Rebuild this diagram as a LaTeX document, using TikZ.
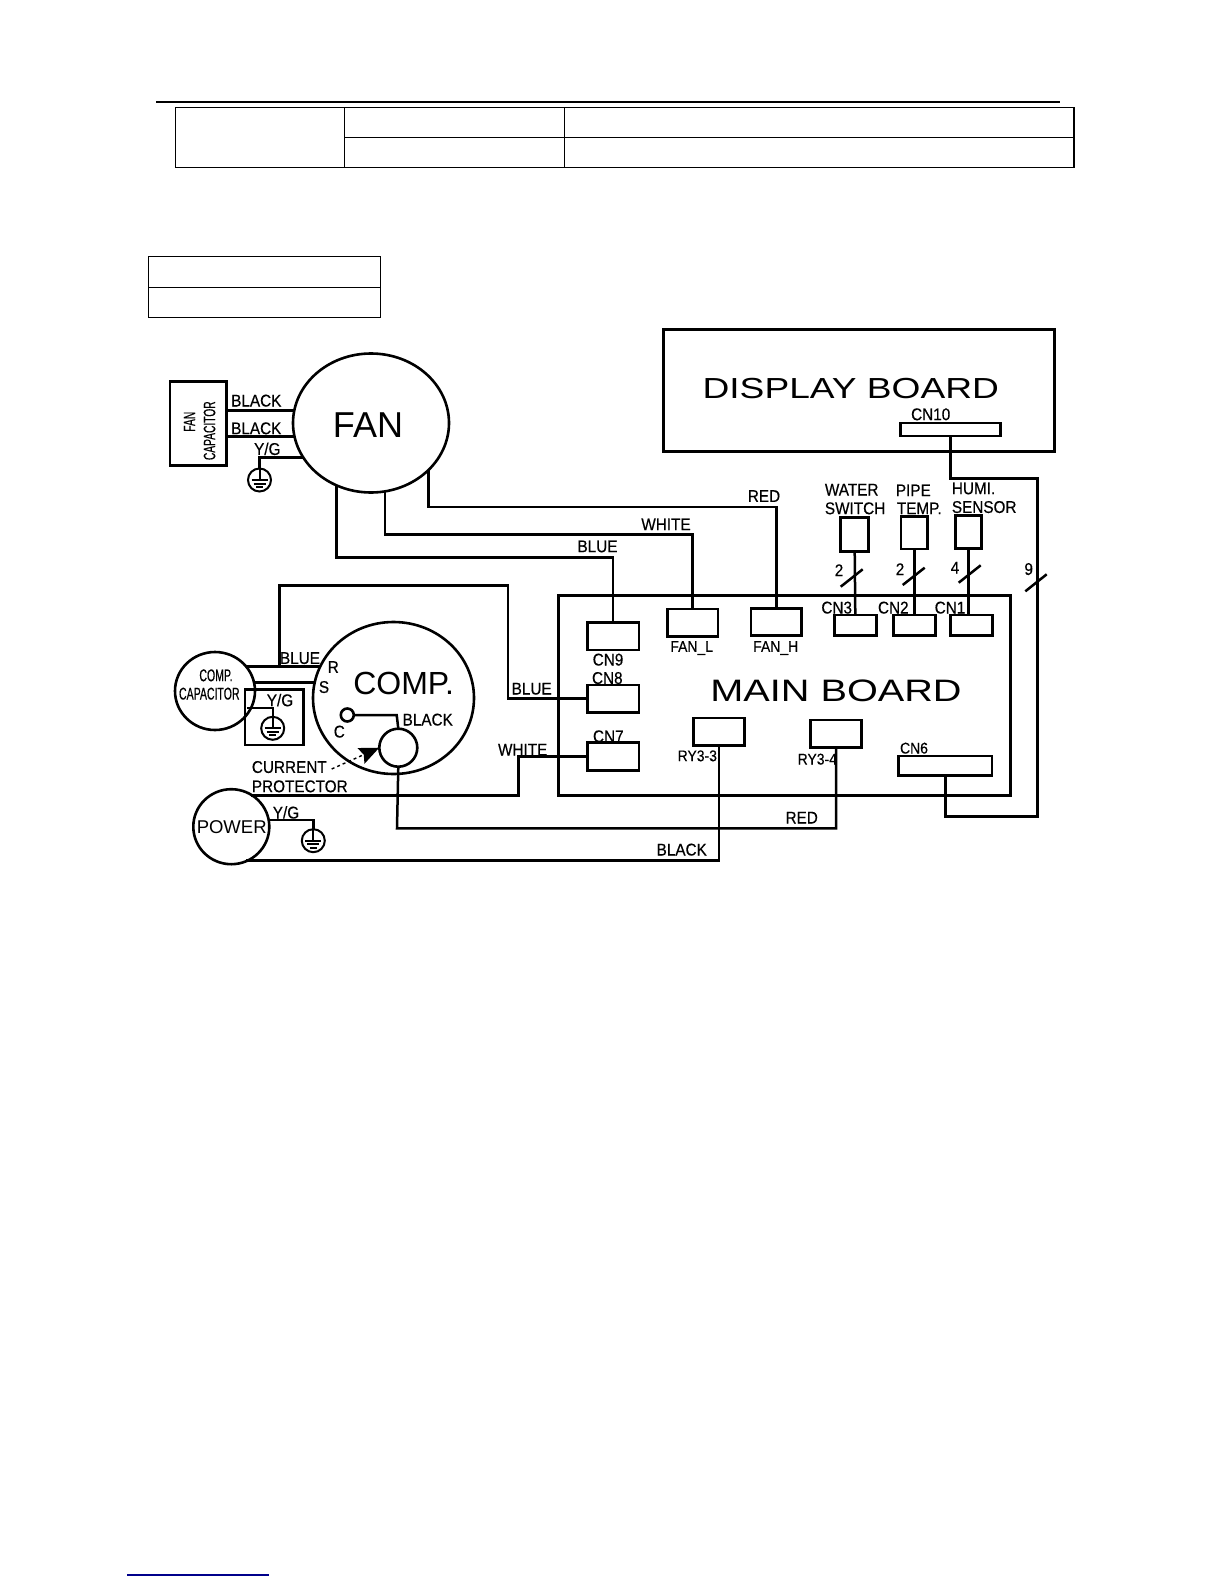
\documentclass[tikz,border=0pt]{standalone}
\usepackage{fontspec}
\setmainfont{Liberation Sans}
\newfontfamily\wirefont[FakeStretch=0.9,FakeBold=0.4]{Liberation Sans}
\newfontfamily\narrowfont[FakeStretch=0.62,FakeBold=0.4]{Liberation Sans}
\newfontfamily\widefont[FakeStretch=1.28]{Liberation Sans}
\usetikzlibrary{calc,positioning,shapes.geometric,arrows.meta}
\tikzset{
  cell/.style={draw,line width=1.4,inner sep=0,outer sep=0},
  board/.style={draw,line width=3,inner sep=0,outer sep=0},
  conn/.style={draw,line width=2.6,inner sep=0,outer sep=0},
  ring/.style={draw,ellipse,line width=2.6,inner sep=0,outer sep=0},
  wire/.style={line width=2.5},
  lbl/.style={font=\wirefont\fontsize{17}{18}\selectfont,inner sep=0,text height=12.4,text depth=0},
  small/.style={font=\narrowfont\fontsize{17}{18}\selectfont,inner sep=0,text height=12.4,text depth=0},
  title/.style={inner sep=0,text depth=0}
}
\newcommand{\earthmark}[2]{
  \node[ring,line width=2,minimum width=23,minimum height=23] (#1) at (#2) {};
  \draw[line width=2] (#1.north) -- (#1.center);
  \draw[line width=2] ([shift={(-8,0)}]#1.center) -- ([shift={(8,0)}]#1.center);
  \draw[line width=2] ([shift={(-6,3.5)}]#1.center) -- ([shift={(6,3.5)}]#1.center);
  \draw[line width=2] ([shift={(-3.5,7)}]#1.center) -- ([shift={(3.5,7)}]#1.center);
}
\begin{document}
\begin{tikzpicture}[x=1pt,y=-1pt]
\useasboundingbox (0,0) rectangle (1224,1584);
\coordinate (rulel) at (156,102);
\coordinate (ruler) at (1060,102);
\draw[line width=2.4] (rulel) -- (ruler);
\node[cell,minimum width=169,minimum height=60] (taba) at (260.2,137.3) {};
\node[cell,minimum width=220,minimum height=30] (tabb) at (454.7,122.3) {};
\node[cell,minimum width=220,minimum height=30] (tabc) at (454.7,152.3) {};
\node[cell,minimum width=509.3,minimum height=30] (tabd) at (819.4,122.3) {};
\node[cell,minimum width=509.3,minimum height=30] (tabe) at (819.4,152.3) {};
\node[cell,minimum width=232,minimum height=31] (tabf) at (264.3,271.8) {};
\node[cell,minimum width=232,minimum height=30] (tabg) at (264.3,302.3) {};
\coordinate (linkl) at (127,1575);
\coordinate (linkr) at (269,1575);
\draw[line width=1.2,color={rgb,255:red,0;green,0;blue,139}] (linkl) -- (linkr);

\node[board,minimum width=391,minimum height=121.3] (display) at (858.5,390.6) {};
\node[board,minimum width=451.3,minimum height=200.3] (main) at (784.4,695.2) {};
\node[title,font=\widefont\fontsize{29}{30}\selectfont,text height=20.5] (displaytxt) at (850.8,388.3) {DISPLAY BOARD};
\node[title,font=\widefont\fontsize{31}{34}\selectfont,text height=22.5] (maintxt) at (836,690) {MAIN BOARD};

\node[ring,minimum width=156,minimum height=139] (fan) at (371,423) {};
\node[title,font=\fontsize{36}{37}\selectfont,text height=25] (fantxt) at (368,425.3) {FAN};
\node[ring,minimum width=161,minimum height=152] (comp) at (393.5,698) {};
\node[title,font=\fontsize{32}{33}\selectfont,text height=22.5] (comptxt) at (403.7,683) {COMP.};
\node[ring,minimum width=80,minimum height=78] (compcap) at (215,691) {};
\node[ring,minimum width=76,minimum height=75] (power) at (231.3,826.7) {};
\node[title,font=\fontsize{18.5}{19}\selectfont,text height=13] (powertxt) at (231.7,827) {POWER};
\node[conn,minimum width=56.7,minimum height=84] (fancap) at (198.4,423.7) {};
\node[small,rotate=90,font=\narrowfont\fontsize{16.5}{18}\selectfont] (fancapa) at (189,421.7) {FAN};
\node[small,rotate=90,font=\narrowfont\fontsize{16.5}{18}\selectfont] (fancapb) at (209,430.7) {CAPACITOR};
\node[small] (compcapa) at (216,675) {COMP.};
\node[small] (compcapb) at (209.3,693.3) {CAPACITOR};
\node[conn,minimum width=58.3,minimum height=55.7] (capbox) at (274.2,717.2) {};
\node[ring,minimum width=13,minimum height=13] (termc) at (347.3,715) {};
\node[ring,minimum width=38,minimum height=38] (prot) at (398.3,747.7) {};

\node[conn,minimum width=51.7,minimum height=27.7] (cnnine) at (613.2,636.2) {};
\node[conn,minimum width=51.7,minimum height=27.3] (cneight) at (613.2,698.7) {};
\node[conn,minimum width=51.7,minimum height=28] (cnseven) at (613.2,756.7) {};
\node[conn,minimum width=50.7,minimum height=27.7] (fanl) at (692.7,622.8) {};
\node[conn,minimum width=50.7,minimum height=27] (fanh) at (776.4,621.8) {};
\node[conn,minimum width=42,minimum height=20.7] (cnthree) at (855.3,625.4) {};
\node[conn,minimum width=42,minimum height=20.7] (cntwo) at (914.3,625.4) {};
\node[conn,minimum width=42,minimum height=20.7] (cnone) at (971.3,625.4) {};
\node[conn,minimum width=51,minimum height=27.7] (ryc) at (718.8,731.8) {};
\node[conn,minimum width=51.4,minimum height=27.3] (ryd) at (836,733.6) {};
\node[conn,minimum width=93.3,minimum height=19.7] (cnsix) at (945.3,765.8) {};
\node[conn,minimum width=100,minimum height=13] (cnten) at (950.3,429.5) {};
\node[conn,minimum width=28,minimum height=34.4] (water) at (854.7,534.5) {};
\node[conn,minimum width=26.3,minimum height=32.3] (pipe) at (914.3,532.8) {};
\node[conn,minimum width=26,minimum height=33.4] (humi) at (968.3,532) {};

\coordinate (fana) at (294.3,410.3);
\coordinate (fanb) at (294.3,436.3);
\coordinate (fanc) at (303.4,457.7);
\coordinate (fanr) at (428.3,470);
\coordinate (fanw) at (385,491.4);
\coordinate (fanu) at (336.7,485.4);
\draw[wire] (fancap.east |- fana) -- (fana);
\draw[wire] (fancap.east |- fanb) -- (fanb);
\earthmark{earthfan}{259.5,480}
\draw[wire] (fanc) -| (earthfan.north);
\coordinate (topr) at (428.3,507);
\draw[wire] (fanr) -- (topr) -| (fanh.north);
\coordinate (topw) at (385,534.3);
\draw[wire] (fanw) -- (topw) -| (fanl.north);
\coordinate (topu) at (336.7,557.3);
\draw[wire] (fanu) -- (topu) -| (cnnine.north);

\coordinate (tenbend) at (950.3,478.7);
\coordinate (sixbend) at (1037.5,816.7);
\draw[wire] (cnten.south) -- (tenbend) -| (sixbend) -| (cnsix.south);
\draw[wire] (water.south) -- (cnthree.north);
\draw[wire] (pipe.south) -- (cntwo.north);
\draw[wire] (humi.south) -- (humi.south |- cnone.north);
\coordinate (slasha) at (840.7,586.7);
\coordinate (slashb) at (862.7,569.3);
\coordinate (slashc) at (902.7,585);
\coordinate (slashd) at (924.7,567.7);
\coordinate (slashe) at (958.7,582.7);
\coordinate (slashf) at (980.7,565.3);
\coordinate (slashg) at (1025.3,591.3);
\coordinate (slashh) at (1046.7,574.3);
\draw[wire] (slasha) -- (slashb);
\draw[wire] (slashc) -- (slashd);
\draw[wire] (slashe) -- (slashf);
\draw[wire] (slashg) -- (slashh);

\coordinate (capr) at (246.3,666.7);
\coordinate (compr) at (320,666.7);
\coordinate (caps) at (254,682.3);
\coordinate (comps) at (315,682.3);
\coordinate (capy) at (247,707.7);
\draw[wire] (capr) -- (compr);
\draw[wire] (caps) -- (comps);
\coordinate (blueup) at (279.3,666.7);
\coordinate (bluetop) at (279.3,585.3);
\coordinate (blueside) at (508,698.7);
\draw[wire] (blueup) -- (bluetop) -| (blueside) -- (cneight.west);
\earthmark{earthcap}{272.7,728.3}
\draw[line width=2] (capy) -| (earthcap.north);
\coordinate (termbend) at (396.7,715);
\draw[wire] (termc.east) -- (termbend) -- (prot.north);
\coordinate (arrowfrom) at (331.7,769);
\draw[line width=1.4,dashed,-{Stealth[length=20pt,width=17pt,inset=3pt]}] (arrowfrom) -- (prot.west);

\coordinate (powerw) at (251.4,795.3);
\coordinate (whitebend) at (518.7,795.3);
\draw[wire] (powerw) -- (whitebend) |- (cnseven.west);
\earthmark{earthpow}{313.3,840.7}
\coordinate (powery) at (269,820);
\draw[wire] (powery) -| (earthpow.north);
\coordinate (powerk) at (246.3,860.7);
\draw[wire] (powerk) -| (ryc.south);
\coordinate (redbend) at (397,828.3);
\draw[wire] (prot.south) -- (redbend) -| (ryd.south);

\node[lbl] (lblblacka) at (256.3,400.3) {BLACK};
\node[lbl] (lblblackb) at (256.3,428) {BLACK};
\node[lbl] (lblyga) at (267.3,448.7) {Y/G};
\node[lbl] (lblblueu) at (597.5,546) {BLUE};
\node[lbl] (lblwhitet) at (666,524) {WHITE};
\node[lbl] (lblredt) at (764,495.7) {RED};
\node[lbl] (lblblued) at (300,657.7) {BLUE};
\node[lbl] (lblr) at (333.3,666.7) {R};
\node[lbl] (lbls) at (324,686.7) {S};
\node[lbl] (lblc) at (339.3,731.3) {C};
\node[lbl] (lblygb) at (280,700) {Y/G};
\node[lbl] (lblblackc) at (427.7,719.3) {BLACK};
\node[lbl,right] (lblcur) at (251.7,766.7) {CURRENT};
\node[lbl,right] (lblpro) at (251.7,786) {PROTECTOR};
\node[lbl] (lblbluem) at (531.7,688.3) {BLUE};
\node[lbl] (lblwhitem) at (522.7,749.3) {WHITE};
\node[lbl] (lblygc) at (286,812.3) {Y/G};
\node[lbl] (lblredb) at (801.7,817.3) {RED};
\node[lbl] (lblblackd) at (681.7,849.3) {BLACK};
\node[lbl] (lblcnnine) at (608,659.3) {CN9};
\node[lbl] (lblcneight) at (607.3,677.7) {CN8};
\node[lbl] (lblcnseven) at (608.3,736) {CN7};
\node[small,font=\wirefont\fontsize{15.5}{17}\selectfont] (lblfanl) at (691.7,645.7) {FAN\_L};
\node[small,font=\wirefont\fontsize{15.5}{17}\selectfont] (lblfanh) at (775.7,645.7) {FAN\_H};
\node[small,font=\wirefont\fontsize{15.5}{17}\selectfont] (lblryc) at (697.3,755) {RY3-3};
\node[small,font=\wirefont\fontsize{15.5}{17}\selectfont] (lblryd) at (817.3,758.3) {RY3-4};
\node[small,font=\wirefont\fontsize{15.5}{17}\selectfont] (lblcnsix) at (914,747.3) {CN6};
\node[lbl] (lblcnthree) at (836.7,607.3) {CN3};
\node[lbl] (lblcntwo) at (893.3,607.3) {CN2};
\node[lbl] (lblcnone) at (950,607.3) {CN1};
\node[lbl] (lblcnten) at (930.7,414) {CN10};
\node[lbl,right] (lblwatera) at (824.7,489.3) {WATER};
\node[lbl,right] (lblwaterb) at (824.7,508) {SWITCH};
\node[lbl,right] (lblpipea) at (895.7,490) {PIPE};
\node[lbl,right] (lblpipeb) at (896.7,508) {TEMP.};
\node[lbl,right] (lblhumia) at (951.7,488) {HUMI.};
\node[lbl,right] (lblhumib) at (951.7,506.7) {SENSOR};
\node[lbl] (lblnuma) at (839,570) {2};
\node[lbl] (lblnumb) at (900,569) {2};
\node[lbl] (lblnumc) at (955,567.3) {4};
\node[lbl] (lblnumd) at (1028.7,568.7) {9};
\end{tikzpicture}
\end{document}
